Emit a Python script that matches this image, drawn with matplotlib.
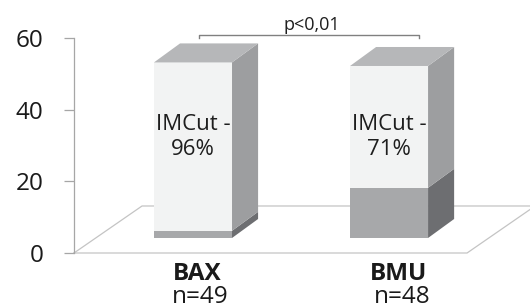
import matplotlib
matplotlib.use('Agg')
import matplotlib.pyplot as plt
from matplotlib.patches import Polygon

# data
groups = ['BAX', 'BMU']
n_patients = [49, 48]
imcut_pct = [96, 71]
other_vals = [2, 14]    # lower (dark) segment
imcut_vals = [47, 34]   # upper (light) segment

plt.rcParams['font.family'] = ['Open Sans', 'DejaVu Sans']

fig = plt.figure(figsize=(5.3, 3.08), dpi=100)
ax = fig.add_axes([74 / 530, 55 / 308, 456 / 530, 215 / 308])
ax.set_xlim(-0.607, 1.719)
ax.set_ylim(0, 60)

# fake 3d geometry (data units)
bar_w = 0.398
depth_dx, depth_dy = 0.133, 5.3       # bar depth
base_y = 4.19                          # bars sit a bit back on the floor
floor_dx, floor_dy = 0.347, 13.12
floor_x0, floor_x1 = -0.607, 1.398

floor_col = '#c4c4c4'
ax.plot([floor_x0, floor_x1, floor_x1 + floor_dx], [0, 0, floor_dy],
        color=floor_col, lw=0.9, clip_on=False, zorder=1)
ax.plot([floor_x0, floor_x0 + floor_dx, floor_x1 + floor_dx], [0, floor_dy, floor_dy],
        color=floor_col, lw=0.9, clip_on=False, zorder=1)


def box(x0, y0, y1, front, side, top, z):
    x1 = x0 + bar_w
    ax.add_patch(Polygon([(x0, y0), (x1, y0), (x1, y1), (x0, y1)],
                         closed=True, fc=front, ec='none', clip_on=False, zorder=z))
    ax.add_patch(Polygon([(x1, y0), (x1 + depth_dx, y0 + depth_dy),
                          (x1 + depth_dx, y1 + depth_dy), (x1, y1)],
                         closed=True, fc=side, ec='none', clip_on=False, zorder=z))
    if top is not None:
        ax.add_patch(Polygon([(x0, y1), (x1, y1), (x1 + depth_dx, y1 + depth_dy),
                              (x0 + depth_dx, y1 + depth_dy)],
                             closed=True, fc=top, ec='none', clip_on=False, zorder=z))


for i, g in enumerate(groups):
    x0 = i - bar_w / 2
    y_mid = base_y + other_vals[i]
    y_top = y_mid + imcut_vals[i]
    box(x0, base_y, y_mid, '#a7a8aa', '#6d6e71', None, 2)
    box(x0, y_mid, y_top, '#f2f3f3', '#9d9ea0', '#b6b7b9', 3)
    ax.text(i, 32.5, 'IMCut -\n%d%%' % imcut_pct[i], ha='center', va='center',
            fontsize=16, linespacing=1.25, color='#1e1e1e', zorder=5)
    lx = i * 1.03 + 0.02
    ax.text(lx, -7.54, g, ha='center', va='baseline', fontsize=17.5,
            fontweight='bold', color='#1a1a1a', clip_on=False)
    ax.text(lx + 0.015, -13.9, 'n=%d' % n_patients[i], ha='center', va='baseline',
            fontsize=17.5, color='#1a1a1a', clip_on=False)

# significance bracket
bx0, bx1, by = 0.03, 1.153, 60.84
ax.plot([bx0, bx0, bx1, bx1], [by - 0.85, by, by, by - 0.85], color='#808080',
        lw=1, clip_on=False, zorder=4)
ax.text(0.607, 62.2, 'p<0,01', ha='center', va='baseline', fontsize=13, color='#1e1e1e')

# axis styling
for s in ['top', 'right', 'bottom']:
    ax.spines[s].set_visible(False)
ax.spines['left'].set_color('#a6a6a6')
ax.spines['left'].set_linewidth(0.9)
ax.set_xticks([])
ax.set_yticks([0, 20, 40, 60])
ax.tick_params(axis='y', length=7.2, width=0.9, color='#a6a6a6', pad=15,
               labelsize=17.5, labelcolor='#1a1a1a')

fig.savefig('out.png', dpi=100)
